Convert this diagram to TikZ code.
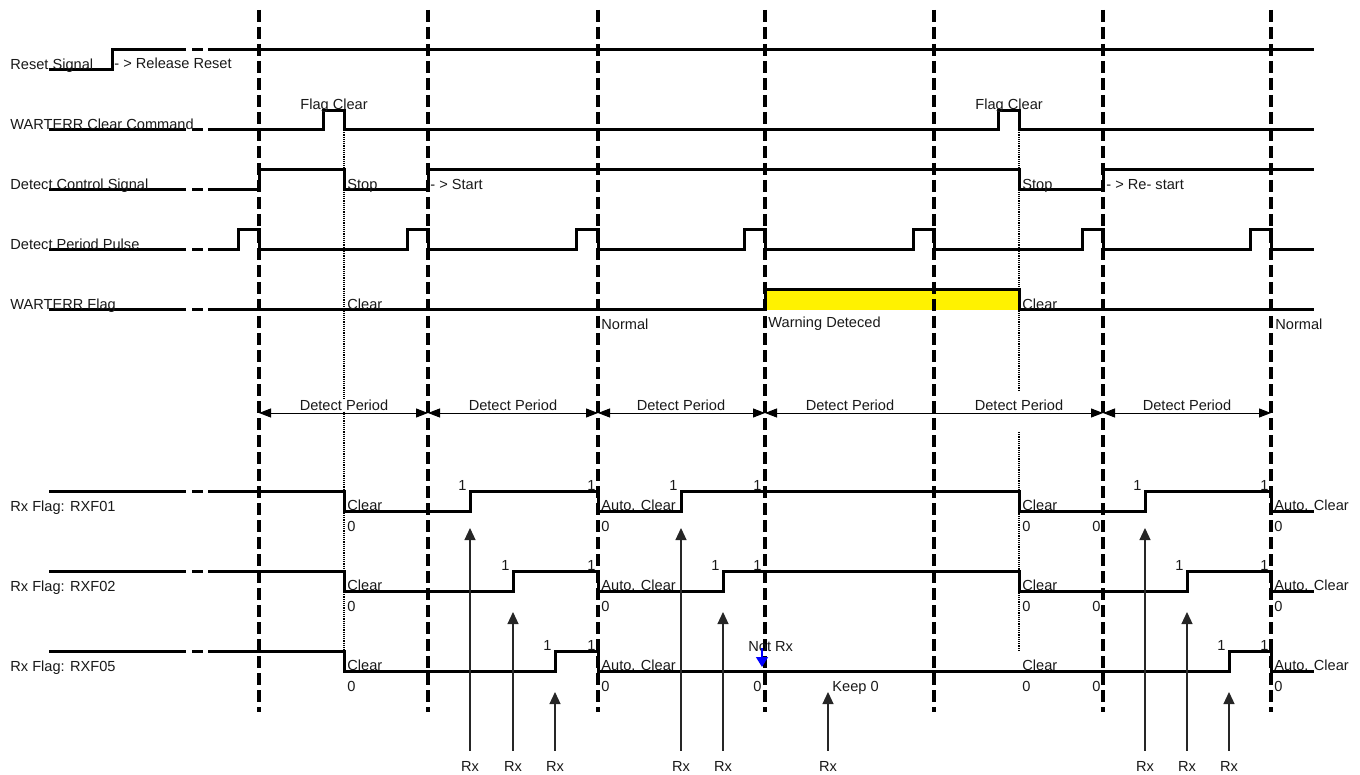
\documentclass[tikz,border=0pt]{standalone}
\usepackage{fontspec}
\setmainfont{Liberation Sans}
\usetikzlibrary{arrows.meta}
\newcommand\sigfont{\fontsize{7.3}{8.7}\selectfont}
\begin{document}
\begin{tikzpicture}[x=0.5pt,y=-0.5pt,
  sig/.style={line width=1.5pt, line join=miter, line cap=butt},
  vdash/.style={line width=1.6pt, dash pattern=on 6pt off 2.5pt},
  vdot/.style={line width=0.7pt, dash pattern=on 0.6pt off 0.5pt},
  lbl/.style={font=\sigfont, inner sep=0pt, anchor=base west, text=black!90},
  perarr/.style={line width=0.5pt, {Triangle[length=6pt,width=4.5pt]}-{Triangle[length=6pt,width=4.5pt]}},
  rxarr/.style={line width=0.6pt, draw=black!85, -{Triangle[length=6pt,width=5.5pt]}},
  perlbl/.style={font=\sigfont, inner sep=0.4pt, anchor=base, fill=white, text=black!90},
  rxlbl/.style={font=\sigfont, inner sep=0pt, anchor=base, text=black!90},
]
\useasboundingbox (0,0) rectangle (1360,775);

% yellow warning area
\fill[yellow] (765,290) rectangle (1019,310);

% vertical dashed lines
\foreach \x in {259,428,598,765,934,1103,1271}
  \draw[vdash] (\x,10) -- (\x,712);

% dotted lines
\draw[vdot] (344,130) -- (344,651);
\draw[vdot] (1019,130) -- (1019,391);
\draw[vdot] (1019,432) -- (1019,651);

% break segments at the start of every row
\foreach \y in {50,130,190,250,310,491,571,651}{
  \draw[sig] (192,\y) -- (203,\y);
}

% Reset Signal
\draw[sig] (49,70) -- (112,70) -- (112,50) -- (186,50);
\draw[sig] (208,50) -- (1314,50);
% WARTERR Clear Command
\draw[sig] (49,130) -- (186,130);
\draw[sig] (208,130) -- (323,130) -- (323,111) -- (344,111) -- (344,130) -- (998,130) -- (998,111) -- (1019,111) -- (1019,130) -- (1314,130);
% Detect Control Signal
\draw[sig] (49,190) -- (186,190);
\draw[sig] (208,190) -- (259,190) -- (259,170) -- (344,170) -- (344,190) -- (428,190) -- (428,170) -- (1019,170) -- (1019,190) -- (1103,190) -- (1103,170) -- (1314,170);
% Detect Period Pulse
\draw[sig] (49,250) -- (186,250);
\draw[sig] (208,250) -- (238,250) -- (238,230) -- (259,230) -- (259,250)
  -- (407,250) -- (407,230) -- (428,230) -- (428,250)
  -- (576,250) -- (576,230) -- (598,230) -- (598,250)
  -- (744,250) -- (744,230) -- (765,230) -- (765,250)
  -- (913,250) -- (913,230) -- (934,230) -- (934,250)
  -- (1082,250) -- (1082,230) -- (1103,230) -- (1103,250)
  -- (1250,250) -- (1250,230) -- (1271,230) -- (1271,250) -- (1314,250);
% WARTERR Flag
\draw[sig] (49,310) -- (186,310);
\draw[sig] (208,310) -- (765,310) -- (765,290) -- (1019,290) -- (1019,310) -- (1314,310);
% RXF01
\draw[sig] (49,491) -- (186,491);
\draw[sig] (208,491) -- (344,491) -- (344,511) -- (470,511) -- (470,491) -- (598,491) -- (598,511) -- (681,511) -- (681,491) -- (1019,491) -- (1019,511) -- (1145,511) -- (1145,491) -- (1271,491) -- (1271,511) -- (1314,511);
% RXF02
\draw[sig] (49,571) -- (186,571);
\draw[sig] (208,571) -- (344,571) -- (344,591) -- (513,591) -- (513,571) -- (598,571) -- (598,591) -- (723,591) -- (723,571) -- (1019,571) -- (1019,591) -- (1187,591) -- (1187,571) -- (1271,571) -- (1271,591) -- (1314,591);
% RXF05
\draw[sig] (49,651) -- (186,651);
\draw[sig] (208,651) -- (344,651) -- (344,671) -- (555,671) -- (555,651) -- (598,651) -- (598,671) -- (1229,671) -- (1229,651) -- (1271,651) -- (1271,671) -- (1314,671);

% row labels
\node[lbl] (lreset) at (10,70) {Reset Signal};
\node[lbl] (lrel) at (114,69) {- > Release Reset};
\node[lbl] (lcmd) at (10,130) {WARTERR Clear Command};
\node[lbl] (fc1) at (300,110) {Flag Clear};
\node[lbl] (fc2) at (975,110) {Flag Clear};
\node[lbl] (lctl) at (10,190) {Detect Control Signal};
\node[lbl] (stop1) at (347,190) {Stop};
\node[lbl] (stop2) at (1022,190) {Stop};
\node[lbl] (start) at (430,190) {- > Start};
\node[lbl] (restart) at (1106,190) {- > Re- start};
\node[lbl] (lpulse) at (10,250) {Detect Period Pulse};
\node[lbl] (lflag) at (10,310) {WARTERR Flag};
\node[lbl] (fclr1) at (347,310) {Clear};
\node[lbl] (fclr2) at (1022,310) {Clear};
\node[lbl] (norm1) at (601,329) {Normal};
\node[lbl] (warn) at (768,328) {Warning Deteced};
\node[lbl] (norm2) at (1275,329) {Normal};
\node[lbl] (lrx1) at (10,511) {Rx Flag: RXF01};
\node[lbl] (lrx2) at (10,591) {Rx Flag: RXF02};
\node[lbl] (lrx5) at (10,671) {Rx Flag: RXF05};

% detect period arrows
\foreach \a/\b [count=\i] in {259/428,428/598,598/765,765/1103,1103/1271}{
  \coordinate (pa\i) at (\a,413);
  \coordinate (pb\i) at (\b,413);
  \draw[perarr] (pa\i) -- (pb\i);
}
\foreach \x [count=\i] in {344,513,681,850,1019,1187}
  \node[perlbl] (dp\i) at (\x,410) {Detect Period};

% Rx row annotations
\foreach \r/\H/\L in {a/491/511,b/571/591,c/651/671}{
  \node[lbl] (clrA\r) at (347,{\L-1}) {Clear};
  \node[lbl] (zA\r) at (347,{\L+20}) {0};
  \node[lbl] (acA\r) at (601,{\L-1}) {Auto. Clear};
  \node[lbl] (zB\r) at (601,{\L+20}) {0};
  \node[lbl] (clrB\r) at (1022,{\L-1}) {Clear};
  \node[lbl] (zC\r) at (1022,{\L+20}) {0};
  \node[lbl,anchor=base east] (zD\r) at (1101,{\L+20}) {0};
  \node[lbl] (acB\r) at (1274,{\L-1}) {Auto. Clear};
  \node[lbl] (zE\r) at (1274,{\L+20}) {0};
  \node[lbl,anchor=base east] (oA\r) at (596,{\H-1}) {1};
  \node[lbl,anchor=base east] (oB\r) at (1269,{\H-1}) {1};
}
% rising-edge "1" labels
\foreach \x/\H [count=\i] in {470/491,681/491,1145/491,513/571,723/571,1187/571,555/651,1229/651,765/491,765/571}
  \node[lbl,anchor=base east] (one\i) at ({\x-3},{\H-1}) {1};
\node[lbl,anchor=base east] (zmid) at (762,691) {0};
\node[lbl] (notrx) at (748,651) {Not Rx};
\node[lbl] (keep) at (832,691) {Keep 0};
\coordinate (nrA) at (762,648);
\coordinate (nrB) at (762,667);
\draw[line width=0.7pt, blue, -{Triangle[length=5pt,width=6pt]}] (nrA) -- (nrB);

% Rx arrows
\foreach \x/\t [count=\i] in {470/528,513/612,555/692,681/528,723/612,828/692,1145/528,1187/612,1229/692}{
  \node[rxlbl] (rx\i) at (\x,771) {Rx};
  \coordinate (tip\i) at (\x,\t);
  \draw[rxarr] ([yshift=5pt]rx\i.north) -- (tip\i);
}
\end{tikzpicture}
\end{document}
